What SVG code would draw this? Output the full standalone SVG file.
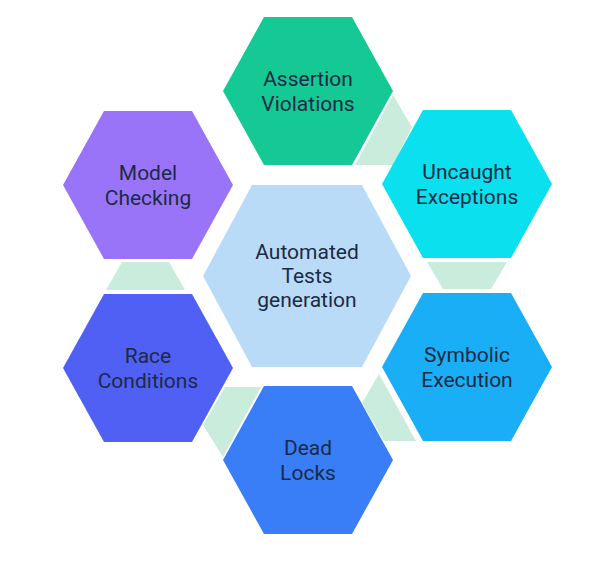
<svg xmlns="http://www.w3.org/2000/svg" xmlns:xlink="http://www.w3.org/1999/xlink" width="600" height="566" viewBox="0 0 600 566">
  <style>
    .lbl { font-family: Roboto, "Liberation Sans", Arial, sans-serif; font-size: 21px; fill: #1c2a44; text-anchor: middle; }
    .mint { fill: #c9ecdc; }
  </style>
  <defs>
    <polygon id="hex" points="-85,0 -44,-74 44,-74 85,0 44,74 -44,74"/>
  </defs>
  <rect width="600" height="566" fill="#ffffff"/>
  <g id="connectors">
    <polygon class="mint" points="393,95 412,127 393,165 355,165"/>
    <polygon class="mint" points="427,262 507,262 491,289 443,289"/>
    <polygon class="mint" points="379,374 362,403 384,441 416,441"/>
    <polygon class="mint" points="225,387 261,387 223,457 203,425"/>
    <polygon class="mint" points="122,262 169,262 185,290 106,290"/>
  </g>
  <g id="center">
    <polygon points="203,276 252,185 362,185 411,276 362,367 252,367" fill="#b9dbf7"/>
    <text class="lbl" x="307" y="259">Automated</text>
    <text class="lbl" x="307" y="283">Tests</text>
    <text class="lbl" x="307" y="307">generation</text>
  </g>
  <g id="assertion">
    <use xlink:href="#hex" href="#hex" x="308" y="91" fill="#14c993"/>
    <text class="lbl" x="308" y="86">Assertion</text>
    <text class="lbl" x="308" y="111">Violations</text>
  </g>
  <g id="uncaught">
    <use xlink:href="#hex" href="#hex" x="467" y="184" fill="#0ae0ee"/>
    <text class="lbl" x="467" y="179">Uncaught</text>
    <text class="lbl" x="467" y="204">Exceptions</text>
  </g>
  <g id="symbolic">
    <use xlink:href="#hex" href="#hex" x="467" y="367" fill="#1aaef7"/>
    <text class="lbl" x="467" y="362">Symbolic</text>
    <text class="lbl" x="467" y="387">Execution</text>
  </g>
  <g id="deadlocks">
    <use xlink:href="#hex" href="#hex" x="308" y="460" fill="#397ef7"/>
    <text class="lbl" x="308" y="455">Dead</text>
    <text class="lbl" x="308" y="480">Locks</text>
  </g>
  <g id="race">
    <use xlink:href="#hex" href="#hex" x="148" y="368" fill="#5060f5"/>
    <text class="lbl" x="148" y="363">Race</text>
    <text class="lbl" x="148" y="388">Conditions</text>
  </g>
  <g id="model">
    <use xlink:href="#hex" href="#hex" x="148" y="185" fill="#9a74f8"/>
    <text class="lbl" x="148" y="180">Model</text>
    <text class="lbl" x="148" y="205">Checking</text>
  </g>
</svg>
